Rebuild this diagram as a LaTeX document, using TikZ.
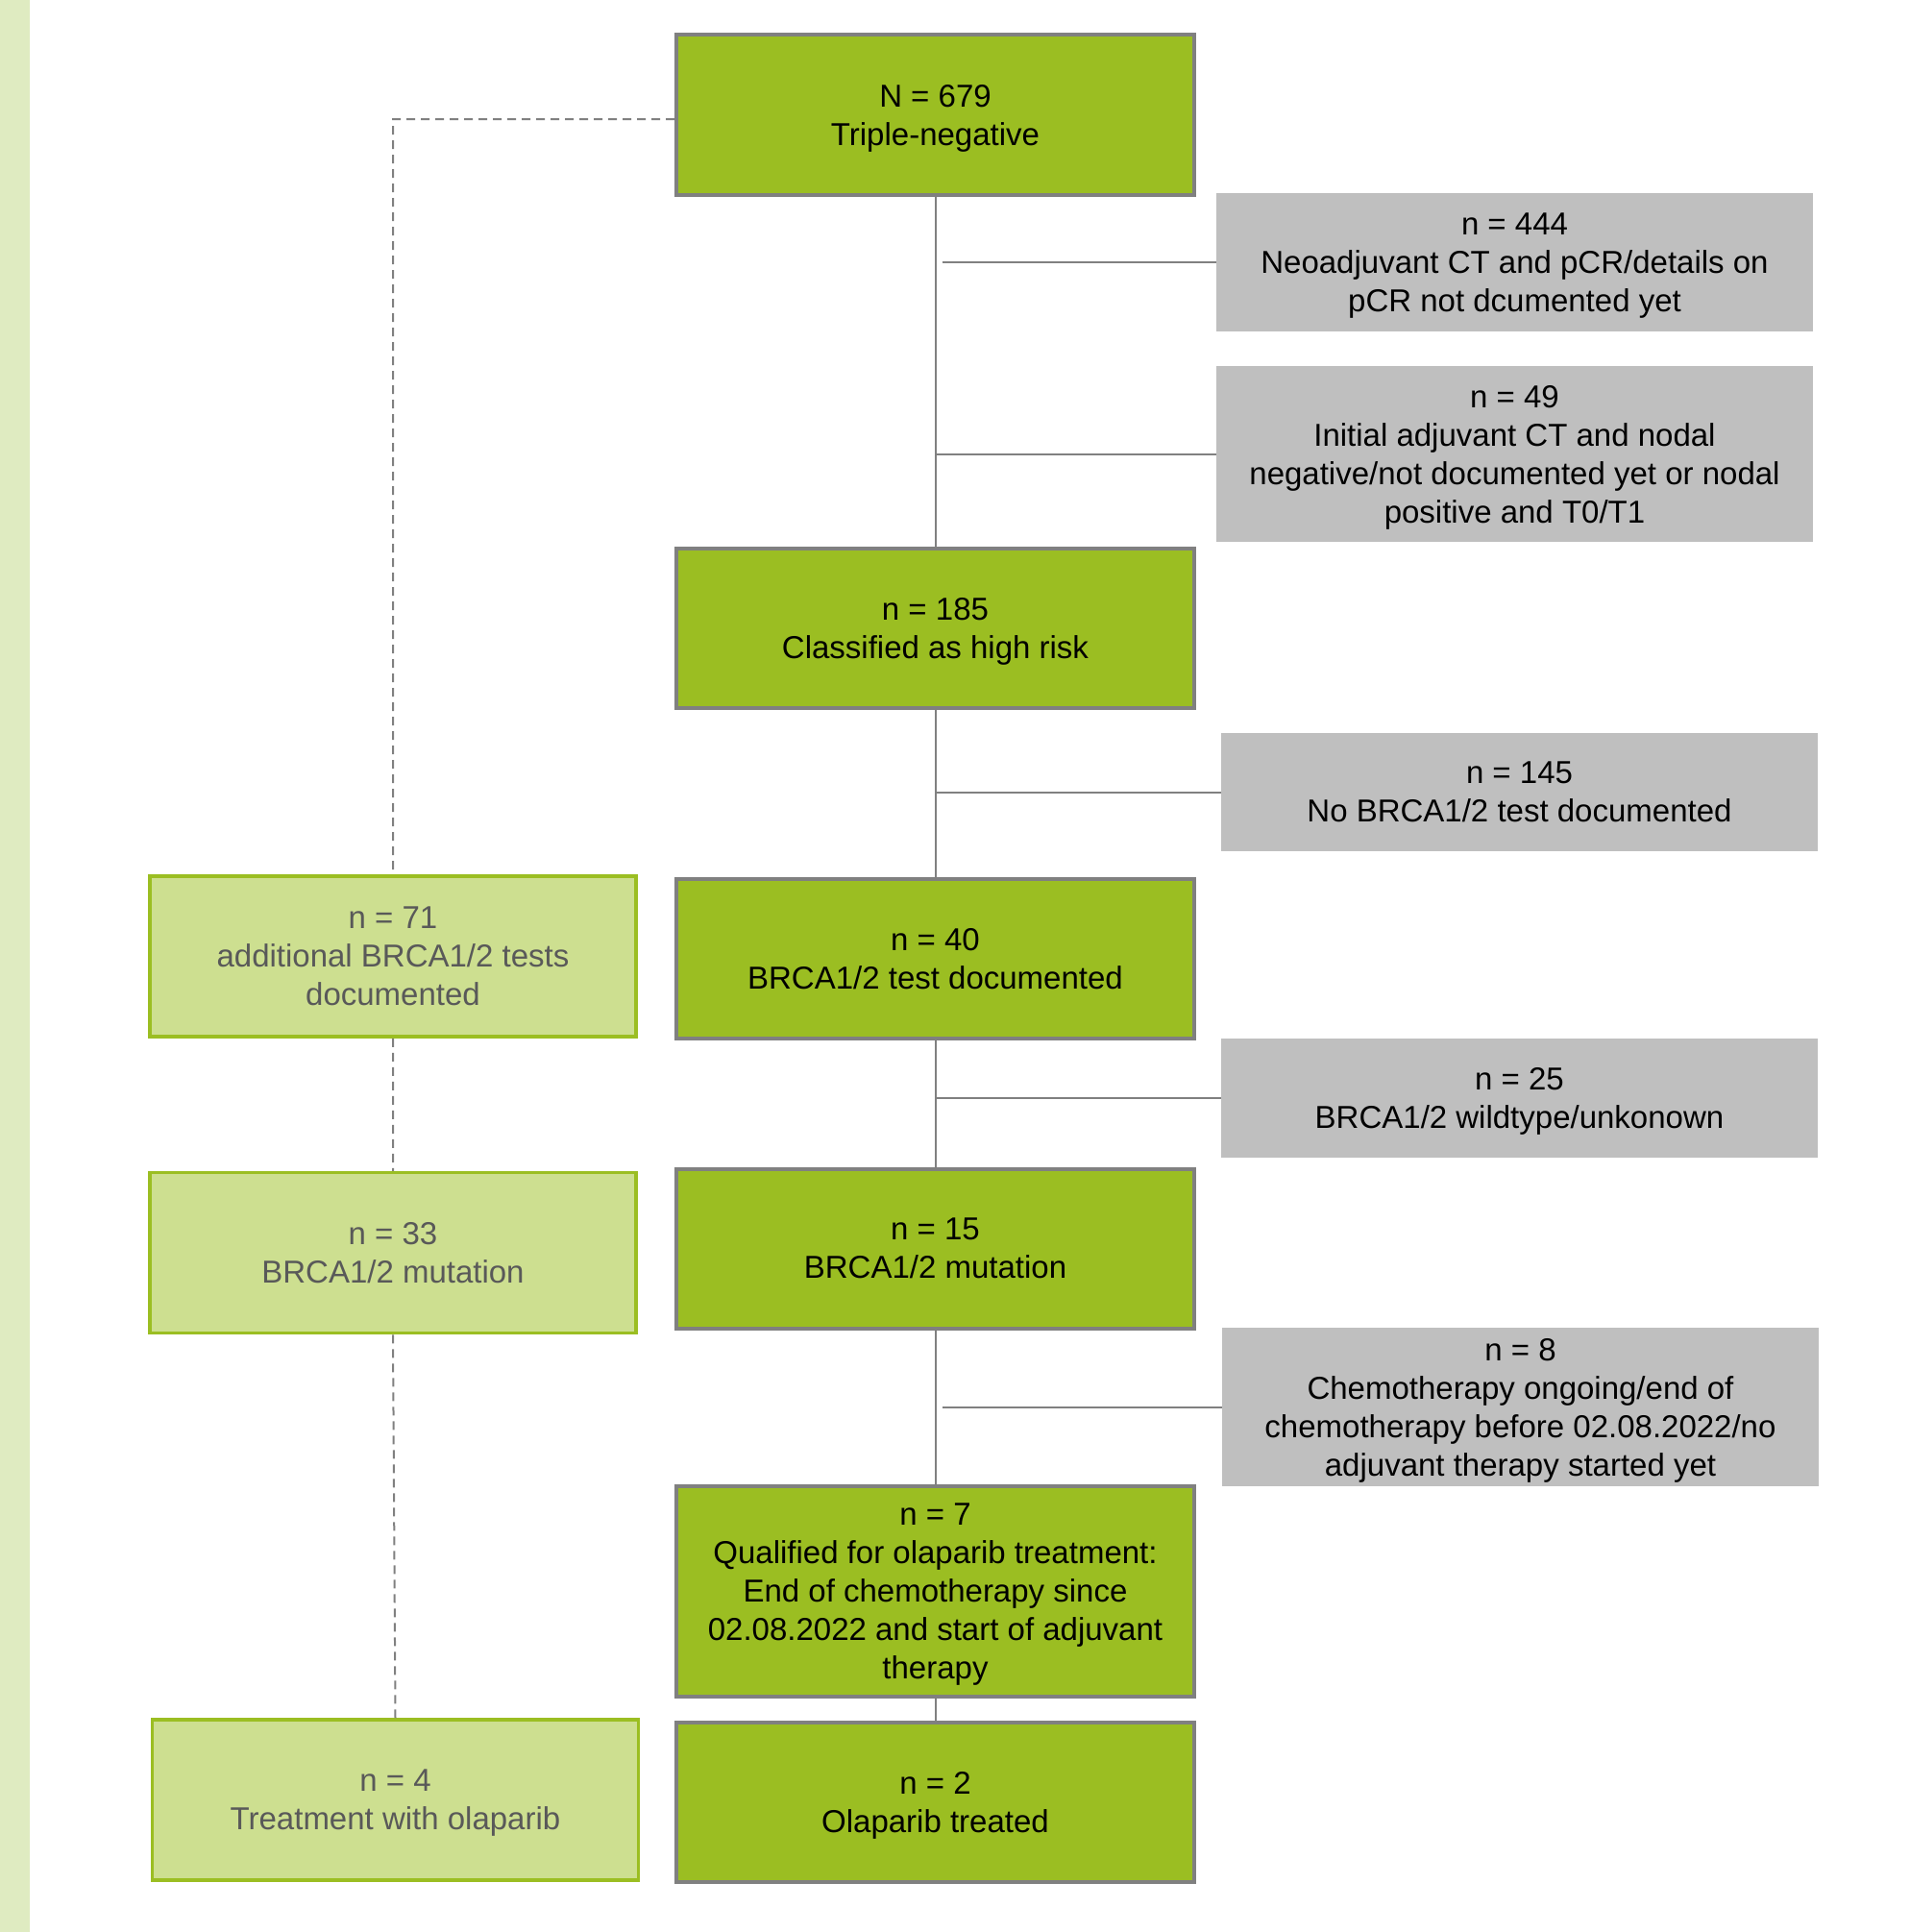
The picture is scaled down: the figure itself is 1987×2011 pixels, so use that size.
\documentclass[tikz,border=0pt]{standalone}
\usepackage{fontspec}
\setmainfont{Liberation Sans}
\usepackage{tikz}
\definecolor{leaf}{HTML}{9BBE22}
\definecolor{paleleaf}{HTML}{CDDF90}
\definecolor{band}{HTML}{DFEBC1}
\definecolor{frame}{HTML}{808080}
\definecolor{shade}{HTML}{BFBFBF}
\definecolor{faint}{HTML}{595959}

\begin{document}
\begin{tikzpicture}[x=1pt,y=-1pt,
	every node/.style={font=\fontsize{33}{40}\selectfont, align=center, inner sep=0pt, text depth=-5pt},
	main/.style={draw=frame, line width=4pt, fill=leaf, minimum width=539pt, minimum height=166pt},
	side/.style={fill=shade, minimum width=621pt},
	extra/.style={draw=leaf, line width=3.5pt, fill=paleleaf, text=faint, minimum width=506pt, minimum height=167pt},
	link/.style={draw=frame, line width=2pt},
	dashlink/.style={draw=frame, line width=2pt, dash pattern=on 9pt off 6pt}]
	\useasboundingbox (0,0) rectangle (1987,2011);
	\fill[band] (0,0) rectangle (31,2011);
	% main column
	\node[main, minimum height=167pt] (tn) at (973.5,119.5) {N = 679\\Triple-negative};
	\node[main] (hr) at (973.5,653.5) {n = 185\\Classified as high risk};
	\node[main] (td) at (973.5,998) {n = 40\\BRCA1/2 test documented};
	\node[main] (mu) at (973.5,1299.5) {n = 15\\BRCA1/2 mutation};
	\node[main, minimum height=219pt] (ql) at (973.5,1656.5) {n = 7\\Qualified for olaparib treatment:\\End of chemotherapy since\\02.08.2022 and start of adjuvant\\therapy};
	\node[main] (ot) at (973.5,1876) {n = 2\\Olaparib treated};
	% excluded
	\node[side, minimum height=144pt] (neo) at (1576.5,273) {n = 444\\Neoadjuvant CT and pCR/details on\\pCR not dcumented yet};
	\node[side, minimum height=183pt] (adj) at (1576.5,472.5) {n = 49\\Initial adjuvant CT and nodal\\negative/not documented yet or nodal\\positive and T0/T1};
	\node[side, minimum height=123pt] (nt) at (1581.5,824.5) {n = 145\\No BRCA1/2 test documented};
	\node[side, minimum height=124pt] (wt) at (1581.5,1143) {n = 25\\BRCA1/2 wildtype/unkonown};
	\node[side, minimum height=165pt] (ch) at (1582.5,1464.5) {n = 8\\Chemotherapy ongoing/end of\\chemotherapy before 02.08.2022/no\\adjuvant therapy started yet};
	% additional
	\node[extra] (at) at (409,995.5) {n = 71\\additional BRCA1/2 tests\\documented};
	\node[extra] (am) at (409,1304) {n = 33\\BRCA1/2 mutation};
	\node[extra] (ao) at (411.5,1873.5) {n = 4\\Treatment with olaparib};

	\path[link] (tn) -- (hr) (hr) -- (td) (td) -- (mu) (mu) -- (ql) (ql) -- (ot);
	\path[link] ([xshift=7pt]tn.south |- neo.west) -- (neo.west)
		(tn.south |- adj.west) -- (adj.west)
		(hr.south |- nt.west) -- (nt.west)
		(td.south |- wt.west) -- (wt.west)
		([xshift=7pt]mu.south |- ch.west) -- (ch.west);
	\path[dashlink] ([yshift=-4.5pt]tn.west) -| (at.north)
		(at.south) -- (am.north)
		(am.south) -- (ao.north);
\end{tikzpicture}
\end{document}
